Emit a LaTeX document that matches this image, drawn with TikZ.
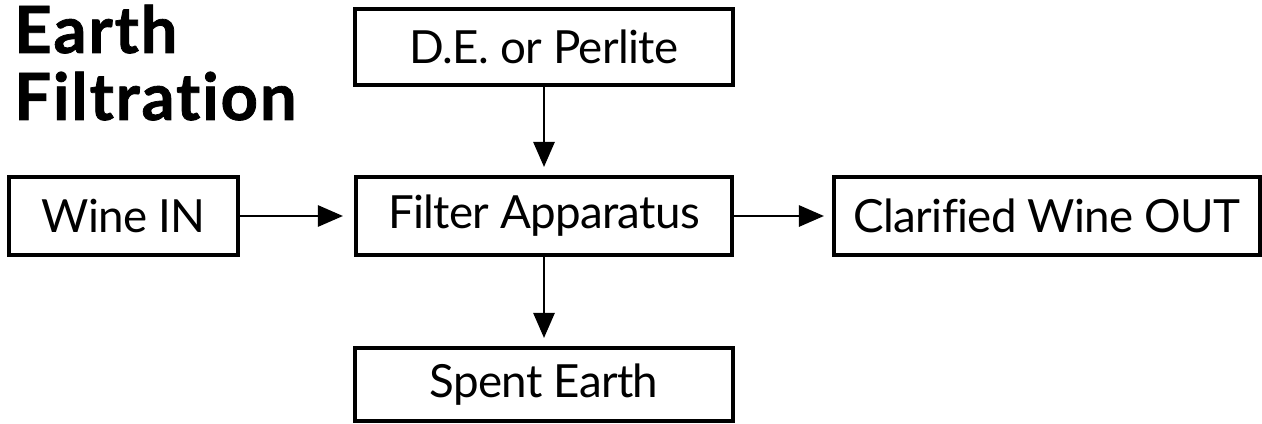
\documentclass[tikz,border=0pt]{standalone}
\usepackage{fontspec}
\setmainfont{Lato}[Ligatures=NoCommon]
\usetikzlibrary{arrows.meta}
\tikzset{
  box/.style={draw, line width=2.3pt, inner sep=0pt, minimum height=1.56cm,
    font=\fontsize{26}{31}\selectfont\addfontfeature{LetterSpace=-1.5}},
  flow/.style={-{Triangle[length=0.5cm,width=0.42cm]}, line width=1.5pt},
  heading/.style={anchor=base west, inner sep=0pt,
    font=\bfseries\fontsize{37}{42}\selectfont\addfontfeature{FakeBold=1.2,LetterSpace=3}},
}
\begin{document}
\begin{tikzpicture}
  \useasboundingbox (0,0) rectangle (25.24,-8.46);
  % title
  \node[heading] (earth) at (0.28,-1.06) {Earth};
  \node[heading] (filtration) at (0.28,-2.40) {Filtration};
  % process boxes
  \node[box, minimum width=7.56cm, minimum height=1.52cm] (medium) at (10.88,-0.94) {D.E. or Perlite};
  \node[box, minimum width=4.58cm] (winein) at (2.47,-4.32) {Wine IN};
  \node[box, minimum width=7.52cm] (filter) at (10.88,-4.32) {Filter Apparatus};
  \node[box, minimum width=8.52cm] (wineout) at (20.94,-4.32) {Clarified Wine OUT};
  \node[box, minimum width=7.56cm, minimum height=1.46cm] (spent) at (10.88,-7.69) {Spent Earth};
  % flows
  \begin{scope}[flow]
    \draw[shorten >=0.16cm] (medium) -- (filter);
    \draw[shorten >=0.22cm] (winein) -- (filter);
    \draw[shorten >=0.16cm] (filter) -- (wineout);
    \draw[shorten >=0.16cm] (filter) -- (spent);
  \end{scope}
\end{tikzpicture}
\end{document}
